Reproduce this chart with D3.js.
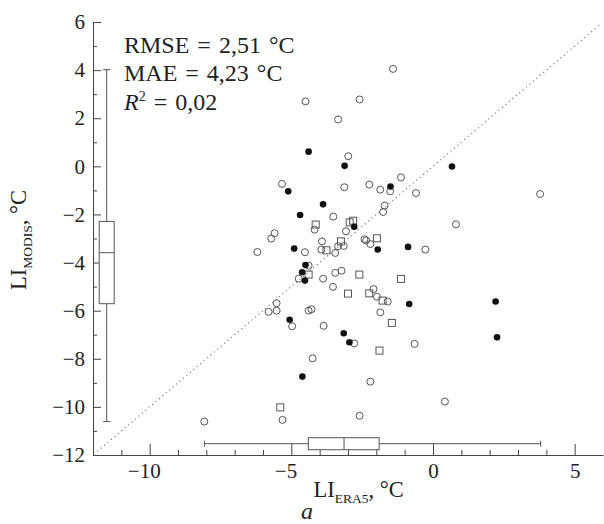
<!DOCTYPE html>
<html>
<head>
<meta charset="utf-8">
<script src="https://cdn.jsdelivr.net/npm/d3@7"></script>
<style>
  body { margin: 0; background: #fff; }
  text { font-family: "Liberation Serif", "DejaVu Serif", serif; fill: #222; }
</style>
</head>
<body>
<svg id="chart" width="604" height="524"></svg>
<script>
// LI ERA5 (x) vs LI MODIS (y), °C
const openPts = [
    [-1.41, 4.05], [-4.50, 2.70], [-2.59, 2.78], [-3.35, 1.95], [-2.99, 0.42],
    [-1.13, -0.46], [-2.25, -0.76], [-3.13, -0.87], [-1.86, -0.97], [-1.51, -1.04],
    [-0.60, -1.11], [3.78, -1.15], [-5.33, -0.73], [-3.52, -2.09], [-1.71, -1.63],
    [-1.76, -1.90], [0.81, -2.41], [-4.18, -2.63], [-3.07, -2.70], [-2.42, -3.03],
    [-2.36, -3.08], [-2.21, -3.23], [-0.27, -3.46], [-3.92, -3.12], [-3.94, -3.46],
    [-3.15, -3.31], [-3.35, -3.32], [-3.45, -3.60], [-4.52, -3.57], [-5.59, -2.78],
    [-5.71, -3.00], [-6.20, -3.56], [-4.39, -4.13], [-3.45, -4.43], [-3.23, -4.34],
    [-4.74, -4.67], [-3.88, -4.67], [-3.53, -5.01], [-5.52, -5.69], [-5.80, -6.05],
    [-5.52, -6.00], [-4.39, -6.00], [-4.29, -5.94], [-4.97, -6.65], [-3.86, -6.63],
    [-2.78, -7.36], [-4.25, -7.98], [-2.10, -5.10], [-1.98, -5.42], [-1.60, -5.62],
    [-1.86, -6.07], [-0.65, -7.38], [-2.21, -8.95], [0.42, -9.78], [-2.59, -10.37],
    [-8.07, -10.61], [-5.31, -10.54]
];
const filledPts = [
    [-4.39, 0.61], [-3.12, 0.02], [0.67, -0.01], [-1.50, -0.84], [-5.11, -1.04],
    [-4.69, -2.02], [-3.88, -1.58], [-2.78, -2.51], [-1.95, -3.46], [-0.88, -3.35],
    [-4.90, -3.42], [-4.50, -4.10], [-4.62, -4.40], [-4.52, -4.75], [-5.06, -6.38],
    [-3.15, -6.94], [-2.95, -7.31], [-4.61, -8.74], [-0.84, -5.72], [2.21, -5.62],
    [2.26, -7.11]
];
const squarePts = [
    [-4.14, -2.42], [-2.94, -2.33], [-2.82, -2.26], [-1.98, -2.99], [-3.76, -3.49],
    [-3.25, -3.12], [-4.39, -4.50], [-2.60, -4.50], [-3.00, -5.29], [-1.13, -4.68],
    [-2.25, -5.28], [-1.78, -5.58], [-1.45, -6.51], [-1.89, -7.66], [-5.39, -10.02]
];
// box plots: [min, q1, median, q3, max]
const boxEra5 = [-8.07, -4.40, -3.14, -1.90, 3.80];
const boxModis = [-10.61, -5.71, -3.59, -2.29, 4.02];
const xMajor = [-10, -5, 0, 5];
const xMinor = d3.range(-11, 6, 1).filter(v => v % 5 !== 0);
const yMajor = [6, 4, 2, 0, -2, -4, -6, -8, -10, -12];
const yMinor = [5, 3, 1, -1, -3, -5, -7, -9, -11];
const oneToOne = [-11.85, 5.9];
const statLines = ['RMSE = 2,51 °C', 'MAE = 4,23 °C'];
const r2Value = '0,02';

const svg = d3.select('#chart');
const axisColor = '#444';

const x = d3.scaleLinear().domain([-12, 6]).range([93, 603]);
const y = d3.scaleLinear().domain([-12, 6]).range([455, 22]);

// 1:1 line
svg.append('line')
    .attr('x1', x(oneToOne[0])).attr('y1', y(oneToOne[0]))
    .attr('x2', x(oneToOne[1])).attr('y2', y(oneToOne[1]))
    .attr('stroke', '#777')
    .attr('stroke-width', 1.1)
    .attr('stroke-dasharray', '1.2,3.3');

// axes
const styleAxis = g => {
    g.style('color', axisColor)
        .attr('font-family', '"Liberation Serif", serif')
        .attr('font-size', 21);
    g.selectAll('text').style('fill', '#222');
};

svg.append('g')
    .attr('transform', `translate(${x(-12)},0)`)
    .call(d3.axisLeft(y).tickValues(yMajor).tickSize(-8).tickSizeOuter(0).tickPadding(8))
    .call(styleAxis);
svg.append('g')
    .attr('transform', `translate(${x(-12)},0)`)
    .call(d3.axisLeft(y).tickValues(yMinor).tickSize(-4).tickFormat(''))
    .call(g => g.select('.domain').remove())
    .call(styleAxis);

const xAxis = svg.append('g')
    .attr('transform', `translate(0,${y(-12)})`)
    .call(d3.axisBottom(x).tickValues(xMajor).tickSize(-11).tickSizeOuter(0).tickPadding(8))
    .call(styleAxis);
// digits centred on the tick, minus sign hanging left
xAxis.selectAll('.tick text').attr('dx', d => d < 0 ? '-0.28em' : 0);
svg.append('g')
    .attr('transform', `translate(0,${y(-12)})`)
    .call(d3.axisBottom(x).tickValues(xMinor).tickSize(-5).tickFormat(''))
    .call(g => g.select('.domain').remove())
    .call(styleAxis);

// box plot along x (ERA5)
const bx = svg.append('g').attr('stroke', '#555').attr('stroke-width', 1).attr('fill', 'none');
const byMid = 443.7, bh = 12;
bx.append('line').attr('x1', x(boxEra5[0])).attr('x2', x(boxEra5[4])).attr('y1', byMid).attr('y2', byMid);
bx.selectAll('.cap').data([boxEra5[0], boxEra5[4]]).enter().append('line')
    .attr('x1', d => x(d)).attr('x2', d => x(d)).attr('y1', byMid - 3).attr('y2', byMid + 3);
bx.append('rect')
    .attr('x', x(boxEra5[1])).attr('width', x(boxEra5[3]) - x(boxEra5[1]))
    .attr('y', byMid - bh / 2).attr('height', bh).attr('fill', '#fff');
bx.append('line').attr('x1', x(boxEra5[2])).attr('x2', x(boxEra5[2])).attr('y1', byMid - bh / 2).attr('y2', byMid + bh / 2);

// box plot along y (MODIS)
const by = svg.append('g').attr('stroke', '#555').attr('stroke-width', 1).attr('fill', 'none');
const bxMid = 106.7, bw = 15;
by.append('line').attr('y1', y(boxModis[0])).attr('y2', y(boxModis[4])).attr('x1', bxMid).attr('x2', bxMid);
by.selectAll('.cap').data([boxModis[0], boxModis[4]]).enter().append('line')
    .attr('y1', d => y(d)).attr('y2', d => y(d)).attr('x1', bxMid - 3.5).attr('x2', bxMid + 3.5);
by.append('rect')
    .attr('y', y(boxModis[3])).attr('height', y(boxModis[1]) - y(boxModis[3]))
    .attr('x', bxMid - bw / 2).attr('width', bw).attr('fill', '#fff');
by.append('line').attr('y1', y(boxModis[2])).attr('y2', y(boxModis[2])).attr('x1', bxMid - bw / 2).attr('x2', bxMid + bw / 2);

// points
svg.append('g').selectAll('rect')
    .data(squarePts).enter().append('rect')
    .attr('x', d => x(d[0]) - 3.5).attr('y', d => y(d[1]) - 3.5)
    .attr('width', 7).attr('height', 7)
    .attr('fill', 'none').attr('stroke', '#555').attr('stroke-width', 1);

svg.append('g').selectAll('circle')
    .data(openPts).enter().append('circle')
    .attr('cx', d => x(d[0])).attr('cy', d => y(d[1]))
    .attr('r', 3.5)
    .attr('fill', 'none').attr('stroke', '#555').attr('stroke-width', 1);

svg.append('g').selectAll('circle')
    .data(filledPts).enter().append('circle')
    .attr('cx', d => x(d[0])).attr('cy', d => y(d[1]))
    .attr('r', 3.3)
    .attr('fill', '#111');

// stats text
svg.selectAll('.stat')
    .data(statLines).enter().append('text')
    .attr('class', 'stat')
    .attr('x', 124).attr('y', (d, i) => 53 + i * 28.3)
    .attr('font-size', 24)
    .attr('word-spacing', 2)
    .text(d => d);
const r2 = svg.append('text').attr('x', 124).attr('y', 110).attr('font-size', 24).attr('word-spacing', 2);
r2.append('tspan').attr('font-style', 'italic').text('R');
r2.append('tspan').attr('font-size', 14).attr('dy', -9).text('2');
r2.append('tspan').attr('dy', 9).text(' = ' + r2Value);

// axis titles
const xt = svg.append('text').attr('x', 313.5).attr('y', 497).attr('font-size', 22.5);
xt.append('tspan').text('LI');
xt.append('tspan').attr('font-size', 13.5).attr('dy', 6).text('ERA5');
xt.append('tspan').attr('dy', -6).text(', °C');

const yt = svg.append('text').attr('transform', 'translate(26,290) rotate(-90)').attr('font-size', 22.5);
yt.append('tspan').text('LI');
yt.append('tspan').attr('font-size', 13.5).attr('dy', 6).text('MODIS');
yt.append('tspan').attr('dy', -6).text(', °C');

// panel letter
svg.append('text').attr('x', 301).attr('y', 519)
    .attr('font-size', 24).attr('font-style', 'italic').text('a');
</script>
</body>
</html>
